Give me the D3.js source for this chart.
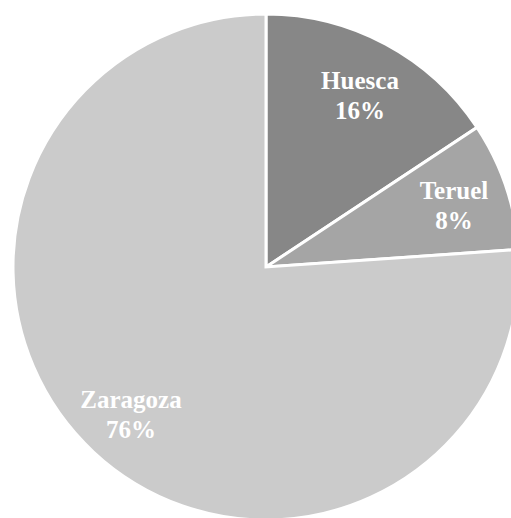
<!DOCTYPE html>
<html>
<head>
<meta charset="utf-8">
<script src="https://cdn.jsdelivr.net/npm/d3@7"></script>
<style>
  html, body { margin: 0; padding: 0; background: #fff; overflow: hidden; }
  svg text { font-family: "Liberation Serif", "Times New Roman", Times, serif; font-weight: 700; }
</style>
</head>
<body>
<div id="chart"></div>
<script>
// Provinces and their share
const provinces = ["Huesca", "Teruel", "Zaragoza"];
const shares = [15.7, 8.2, 76.1];
const labels = ["16%", "8%", "76%"];
const colors = ["#878787", "#a5a5a5", "#cbcbcb"];

const width = 511, height = 518;
const cx = 266, cy = 267, radius = 253;

const svg = d3.select("#chart")
    .append("svg")
    .attr("width", width)
    .attr("height", height)
    .append("g")
    .attr("transform", `translate(${cx},${cy})`);

const data = provinces.map((p, i) => ({ name: p, value: shares[i], label: labels[i], color: colors[i] }));

const pie = d3.pie()
    .sort(null)
    .value(d => d.value);

const arc = d3.arc()
    .innerRadius(0)
    .outerRadius(radius);

const labelArc = d3.arc()
    .innerRadius(198)
    .outerRadius(198);

const arcs = pie(data);

svg.selectAll("path")
    .data(arcs)
    .enter()
    .append("path")
    .attr("d", arc)
    .attr("fill", d => d.data.color)
    .attr("stroke", "#fff")
    .attr("stroke-width", 3)
    .attr("stroke-linejoin", "miter");

// Labels: name on the first line, percentage below (snapped to whole pixels)
const labelGroups = svg.selectAll("g.label")
    .data(arcs)
    .enter()
    .append("g")
    .attr("class", "label")
    .attr("transform", d => {
        const [x, y] = labelArc.centroid(d);
        return `translate(${Math.round(x)},${Math.round(y)})`;
    });

labelGroups.append("text")
    .attr("y", -4)
    .text(d => d.data.name);

labelGroups.append("text")
    .attr("y", 26)
    .text(d => d.data.label);

labelGroups.selectAll("text")
    .attr("text-anchor", "middle")
    .attr("fill", "#fff")
    .attr("font-size", 25);
</script>
</body>
</html>
